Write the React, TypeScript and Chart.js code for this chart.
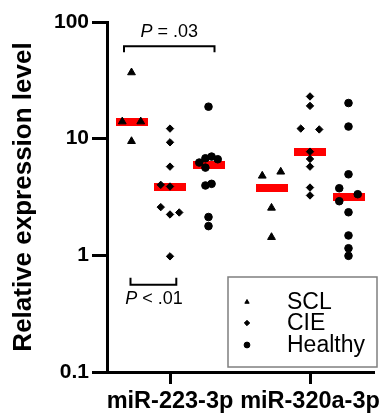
import React, { useEffect, useRef } from "react";
import { Chart, registerables } from "chart.js";
import { drawPoint } from "chart.js/helpers";

Chart.register(...registerables);

// ---------- data ----------
const categories = ["miR-223-3p", "miR-320a-3p"];
const groupNames = ["SCL", "CIE", "Healthy"];
const yTickValues = [0.1, 1, 10, 100];

// SCL
const sclMiR223 = [36.9, 14.0, 14.0, 9.5];
const sclMiR223Spread = [0, -3, 3, 0];
const sclMiR320a = [5.2, 4.8, 2.55, 1.43];
const sclMiR320aSpread = [3, -3, 0, 0];
// CIE
const cieMiR223 = [12.2, 9.3, 5.76, 4.02, 3.89, 2.59, 2.24, 2.33, 0.98];
const cieMiR223Spread = [0, 0, 0, -3, 0, -3, 0, 3, 0];
const cieMiR320a = [23.0, 19.1, 12.2, 12.0, 7.74, 6.7, 5.76, 3.81, 3.26];
const cieMiR320aSpread = [0, 0, -3, 3, 0, 0, 0, 0, 0];
// Healthy
const healthyMiR223 = [18.8, 7.02, 6.79, 6.66, 6.24, 5.65, 4.1, 3.97, 2.13, 1.78];
const healthyMiR223Spread = [0, 1, -1, 3, -3, -1, 1, -1, 0, 0];
const healthyMiR320a = [20.2, 12.7, 4.95, 3.76, 3.34, 2.91, 2.34, 1.48, 1.15, 0.99];
const healthyMiR320aSpread = [0, 0, 0, -3, 3, -3, 0, 0, 0, 0];

// medians (per category)
const sclMedians = [14.0, 3.76];
const cieMedians = [3.89, 7.74];
const healthyMedians = [5.96, 3.15];

// significance annotations
const sigTopLabel = " = .03";
const sigBottomLabel = " < .01";
const sigTopLevel = 62;
const sigBottomLevel = 0.56;

// ---------- layout constants ----------
const COLUMN_OFFSET = 0.275;
const SPREAD_UNIT = 0.022;
const FONT = "'Liberation Sans', Arial, sans-serif";

function buildPoints(valuesByCat: number[][], spreadByCat: number[][], groupIdx: number) {
  const pts: { x: number; y: number }[] = [];
  valuesByCat.forEach((vals, c) => {
    vals.forEach((v, i) => {
      pts.push({
        x: c + 1 + (groupIdx - 1) * COLUMN_OFFSET + spreadByCat[c][i] * SPREAD_UNIT,
        y: v,
      });
    });
  });
  return pts;
}

function buildMedians() {
  const all = [sclMedians, cieMedians, healthyMedians];
  const pts: { x: number; y: number }[] = [];
  all.forEach((meds, g) => {
    meds.forEach((m, c) => {
      pts.push({ x: c + 1 + (g - 1) * COLUMN_OFFSET, y: m });
    });
  });
  return pts;
}

const annotationPlugin = {
  id: "annotations",
  afterDraw(chart: any) {
    const ctx = chart.ctx as CanvasRenderingContext2D;
    const xs = chart.scales.x;
    const ys = chart.scales.y;
    ctx.save();
    ctx.strokeStyle = "#000";
    ctx.fillStyle = "#000";
    ctx.lineWidth = 2;

    // top bracket (SCL vs Healthy, miR-223-3p)
    const tL = xs.getPixelForValue(1 - COLUMN_OFFSET) - 7.5;
    const tR = xs.getPixelForValue(1 + COLUMN_OFFSET) + 6;
    const tY = ys.getPixelForValue(sigTopLevel);
    ctx.beginPath();
    ctx.moveTo(tL, tY + 6);
    ctx.lineTo(tL, tY);
    ctx.lineTo(tR, tY);
    ctx.lineTo(tR, tY + 6);
    ctx.stroke();

    // bottom bracket (SCL vs CIE, miR-223-3p)
    const bL = xs.getPixelForValue(1 - COLUMN_OFFSET) - 1;
    const bR = xs.getPixelForValue(1) + 6.3;
    const bY = ys.getPixelForValue(sigBottomLevel);
    ctx.beginPath();
    ctx.moveTo(bL, bY - 7);
    ctx.lineTo(bL, bY);
    ctx.lineTo(bR, bY);
    ctx.lineTo(bR, bY - 7);
    ctx.stroke();

    const drawP = (label: string, cx: number, cy: number) => {
      ctx.textBaseline = "middle";
      ctx.textAlign = "left";
      ctx.font = `italic 18px ${FONT}`;
      const wP = ctx.measureText("P").width;
      ctx.font = `18px ${FONT}`;
      const wR = ctx.measureText(label).width;
      const x0 = cx - (wP + wR) / 2;
      ctx.font = `italic 18px ${FONT}`;
      ctx.fillText("P", x0, cy);
      ctx.font = `18px ${FONT}`;
      ctx.fillText(label, x0 + wP, cy);
    };
    drawP(sigTopLabel, (tL + tR) / 2, tY - 14);
    drawP(sigBottomLabel, (bL + bR) / 2 + 0.5, bY + 14);

    // legend box
    const lx = 228, ly = 277, lw = 149, lh = 90;
    ctx.lineWidth = 1.5;
    ctx.strokeStyle = "#7f7f7f";
    ctx.strokeRect(lx, ly, lw, lh);
    const styles = ["triangle", "rectRot", "circle"];
    const radii = [2.5, 2.7, 2.9];
    const rows = [302, 323, 345];
    ctx.fillStyle = "#000";
    ctx.strokeStyle = "#000";
    ctx.lineWidth = 1;
    groupNames.forEach((name, i) => {
      drawPoint(ctx, { pointStyle: styles[i], radius: radii[i], borderWidth: 1, rotation: 0 } as any, 247, rows[i]);
      ctx.font = `23px ${FONT}`;
      ctx.textAlign = "left";
      ctx.textBaseline = "middle";
      ctx.fillStyle = "#000";
      ctx.fillText(name, 287, rows[i] + 1);
    });
    ctx.restore();
  },
};

export default function App() {
  const canvasRef = useRef<HTMLCanvasElement | null>(null);

  useEffect(() => {
    if (!canvasRef.current) return;
    const bar = document.createElement("canvas");
    bar.width = 32;
    bar.height = 8;
    const bctx = bar.getContext("2d")!;
    bctx.fillStyle = "#ff0000";
    bctx.fillRect(0, 0, 32, 8);

    const sclPts = buildPoints([sclMiR223, sclMiR320a], [sclMiR223Spread, sclMiR320aSpread], 0);
    const ciePts = buildPoints([cieMiR223, cieMiR320a], [cieMiR223Spread, cieMiR320aSpread], 1);
    const healthyPts = buildPoints(
      [healthyMiR223, healthyMiR320a],
      [healthyMiR223Spread, healthyMiR320aSpread],
      2
    );

    const chart = new Chart(canvasRef.current, {
      type: "scatter",
      data: {
        datasets: [
          {
            label: groupNames[0],
            data: sclPts,
            pointStyle: "triangle",
            pointRadius: 4.5,
            backgroundColor: "#000",
            borderColor: "#000",
            borderWidth: 1,
            order: 1,
          },
          {
            label: groupNames[1],
            data: ciePts,
            pointStyle: "rectRot",
            pointRadius: 3.7,
            backgroundColor: "#000",
            borderColor: "#000",
            borderWidth: 1,
            order: 1,
          },
          {
            label: groupNames[2],
            data: healthyPts,
            pointStyle: "circle",
            pointRadius: 3.8,
            backgroundColor: "#000",
            borderColor: "#000",
            borderWidth: 1,
            order: 1,
          },
          {
            label: "Median",
            data: buildMedians(),
            pointStyle: bar as any,
            pointRadius: 16,
            order: 5,
          },
        ],
      },
      options: {
        animation: false,
        responsive: false,
        devicePixelRatio: 1,
        layout: { padding: { left: 0, right: 7, top: 22, bottom: 0 } },
        plugins: {
          legend: { display: false },
          tooltip: { enabled: false },
        },
        scales: {
          x: {
            type: "linear",
            min: 0.55,
            max: 2.45,
            afterBuildTicks: (scale: any) => {
              scale.ticks = categories.map((_, i) => ({ value: i + 1 }));
            },
            afterFit: (scale: any) => {
              scale.height = 45;
            },
            ticks: {
              autoSkip: false,
              maxRotation: 0,
              padding: 3,
              color: "#000",
              font: { family: FONT, size: 23.5, weight: "bold" },
              callback: (v: any) => categories[Math.round(Number(v)) - 1] ?? "",
            },
            grid: {
              drawOnChartArea: false,
              drawTicks: true,
              tickLength: 12,
              lineWidth: 3,
              color: "#000",
            },
            border: { display: true, width: 3, color: "#000" },
          },
          y: {
            type: "logarithmic",
            min: 0.1,
            max: 100,
            afterBuildTicks: (scale: any) => {
              scale.ticks = yTickValues.map((v) => ({ value: v }));
            },
            afterFit: (scale: any) => {
              scale.width = 107;
            },
            ticks: {
              padding: 3,
              color: "#000",
              font: { family: FONT, size: 21, weight: "bold" },
              callback: (v: any) => String(Number(v)),
            },
            grid: {
              drawOnChartArea: false,
              drawTicks: true,
              tickLength: 15,
              lineWidth: 3,
              color: "#000",
            },
            border: { display: true, width: 3, color: "#000" },
            title: {
              display: true,
              text: "Relative expression level",
              color: "#000",
              font: { family: FONT, size: 26, weight: "bold" },
              padding: { top: 8, bottom: 0 },
            },
          },
        },
      },
      plugins: [annotationPlugin],
    });
    return () => chart.destroy();
  }, []);

  return (
    <div style={{ position: "absolute", left: 0, top: 0, width: 390, height: 417, background: "#fff" }}>
      <canvas ref={canvasRef} width={390} height={417} />
    </div>
  );
}
